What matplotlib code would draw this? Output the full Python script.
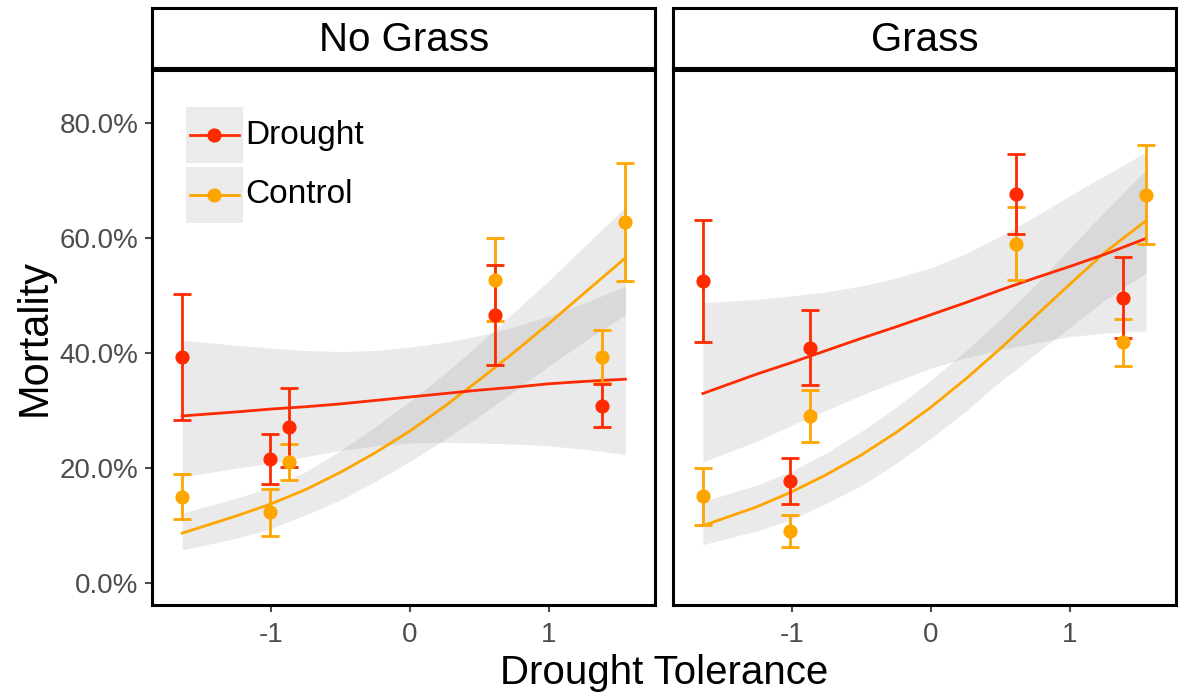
import numpy as np
import matplotlib
matplotlib.use("Agg")
import matplotlib.pyplot as plt
from matplotlib.patches import Rectangle
from matplotlib.lines import Line2D

plt.rcParams['font.family'] = ['Liberation Sans', 'DejaVu Sans']

RED = "#FF2A00"
ORANGE = "#FFA500"
BAND = "#999999"

panels = ["No Grass", "Grass"]

# species drought tolerance (x positions of the summary points)
tol = [-1.64, -1.01, -0.87, 0.61, 1.38, 1.55]

# observed mortality (%) with error bar limits; None = not shown
drought_mean = {"No Grass": [39.3, 21.5, 27.0, 46.6, 30.8, None],
                "Grass":    [52.5, 17.6, 40.9, 67.6, 49.6, None]}
drought_hi = {"No Grass": [50.3, 25.8, 33.8, 55.2, 34.5, None],
              "Grass":    [63.1, 21.6, 47.5, 74.5, 56.6, None]}
drought_lo = {"No Grass": [28.3, 17.2, 20.2, 37.9, 27.0, None],
              "Grass":    [41.9, 13.7, 34.3, 60.7, 42.6, None]}

control_mean = {"No Grass": [14.9, 12.2, 21.0, 52.7, 39.3, 62.7],
                "Grass":    [15.1, 9.0, 29.0, 59.0, 41.8, 67.5]}
control_hi = {"No Grass": [18.9, 16.3, 24.1, 59.9, 44.0, 73.0],
              "Grass":    [20.0, 11.8, 33.6, 65.3, 45.8, 76.2]}
control_lo = {"No Grass": [11.0, 8.1, 17.8, 45.5, 34.8, 52.4],
              "Grass":    [10.1, 6.2, 24.4, 52.6, 37.7, 58.9]}

# fitted curves (%) read at these tolerance values
fit_x = [-1.64, -1.25, -1.0, -0.75, -0.5, -0.25, 0.0, 0.25, 0.5, 0.75, 1.0, 1.25, 1.55]

drought_fit = {
    "No Grass": [29.0, 29.7, 30.2, 30.6, 31.1, 31.7, 32.3, 32.9, 33.5, 34.0, 34.6, 35.0, 35.4],
    "Grass":    [32.9, 36.3, 38.3, 40.4, 42.5, 44.5, 46.6, 48.7, 50.9, 53.0, 55.0, 57.1, 59.9]}
drought_fit_hi = {
    "No Grass": [42.2, 41.3, 40.8, 40.4, 40.2, 40.4, 41.0, 41.8, 43.0, 44.5, 46.4, 48.6, 51.6],
    "Grass":    [48.7, 49.3, 49.9, 50.6, 51.6, 53.0, 54.8, 57.2, 60.3, 63.7, 67.3, 70.8, 74.9]}
drought_fit_lo = {
    "No Grass": [18.4, 19.9, 20.8, 21.9, 23.0, 23.8, 24.3, 24.4, 24.3, 24.1, 23.8, 23.2, 22.3],
    "Grass":    [21.0, 24.6, 27.4, 30.0, 32.6, 35.0, 37.3, 39.1, 40.5, 41.7, 42.8, 43.4, 43.8]}

control_fit = {
    "No Grass": [8.6, 11.6, 13.7, 16.2, 19.2, 22.6, 26.4, 30.7, 35.3, 40.1, 45.1, 50.3, 56.5],
    "Grass":    [9.9, 13.2, 15.8, 18.8, 22.2, 26.1, 30.5, 35.4, 40.7, 46.3, 51.9, 57.4, 63.0]}
control_fit_hi = {
    "No Grass": [12.1, 14.7, 16.6, 19.3, 23.0, 27.1, 31.6, 36.4, 41.6, 47.1, 52.6, 58.4, 65.4],
    "Grass":    [14.1, 17.0, 19.4, 22.6, 26.3, 30.5, 35.2, 40.3, 45.8, 51.7, 58.2, 64.5, 71.9]}
control_fit_lo = {
    "No Grass": [5.7, 7.7, 9.4, 11.8, 14.4, 17.6, 21.1, 24.9, 29.0, 33.3, 37.7, 41.9, 46.6],
    "Grass":    [6.6, 9.0, 11.0, 13.8, 16.9, 20.7, 25.1, 29.8, 35.0, 39.7, 44.4, 49.1, 53.9]}

y_ticks = [0, 20, 40, 60, 80]
x_ticks = [-1, 0, 1]


def draw_points(ax, mean, hi, lo, color):
    xs, ys, up, dn = [], [], [], []
    for x, m, h, l in zip(tol, mean, hi, lo):
        if m is None:
            continue
        xs.append(x)
        ys.append(m)
        up.append(h - m)
        dn.append(m - l)
    ax.errorbar(xs, ys, yerr=[dn, up], fmt="o", color=color, ms=9.2,
                elinewidth=2.0, capsize=6.3, capthick=2.0, zorder=5)


fig = plt.figure(figsize=(11.78, 7), dpi=100)

lefts = [152.3 / 1178, 673 / 1178]
width = 503 / 1178
bottom = 95 / 700
height = 535 / 700

for i, name in enumerate(panels):
    ax = fig.add_axes([lefts[i], bottom, width, height])
    strip = fig.add_axes([lefts[i], 632 / 700, width, 60 / 700])

    # confidence bands
    ax.fill_between(fit_x, drought_fit_lo[name], drought_fit_hi[name],
                    color=BAND, alpha=0.2, lw=0)
    ax.fill_between(fit_x, control_fit_lo[name], control_fit_hi[name],
                    color=BAND, alpha=0.2, lw=0)

    # fitted lines
    ax.plot(fit_x, control_fit[name], color=ORANGE, lw=2.0, zorder=3)
    ax.plot(fit_x, drought_fit[name], color=RED, lw=2.0, zorder=3)

    # observed means
    draw_points(ax, control_mean[name], control_hi[name], control_lo[name], ORANGE)
    draw_points(ax, drought_mean[name], drought_hi[name], drought_lo[name], RED)

    ax.set_xlim(-1.855, 1.765)
    ax.set_ylim(-3.9, 89.2)
    ax.set_xticks(x_ticks)
    ax.set_xticklabels([str(t) for t in x_ticks])
    ax.set_yticks(y_ticks)
    ax.tick_params(labelsize=20, colors="#4D4D4D", width=1.5, length=5, pad=5)
    ax.tick_params(axis="x", pad=7)
    if i == 0:
        ax.set_yticklabels([f"{t:.1f}%" for t in y_ticks])
    else:
        ax.set_yticklabels([])
        ax.tick_params(axis="y", length=0)
    for s in ax.spines.values():
        s.set_linewidth(2.2)
        s.set_color("black")

    strip.set_xticks([])
    strip.set_yticks([])
    for s in strip.spines.values():
        s.set_linewidth(2.2)
        s.set_color("black")
    strip.text(0.5, 0.47, name, ha="center", va="center", fontsize=29,
               transform=strip.transAxes)

    if i == 0:
        # legend with grey key backgrounds
        for k, (lab, col) in enumerate([("Drought", RED), ("Control", ORANGE)]):
            y0 = 0.826 - k * 0.112
            ax.add_patch(Rectangle((0.067, y0), 0.113, 0.105, transform=ax.transAxes,
                                   facecolor="#EBEBEB", edgecolor="none", zorder=1))
            yc = y0 + 0.0525
            ax.add_line(Line2D([0.075, 0.172], [yc, yc], transform=ax.transAxes,
                               color=col, lw=2.0, zorder=2))
            ax.add_line(Line2D([0.1235], [yc], transform=ax.transAxes, marker="o",
                               ms=9.2, color=col, zorder=2))
            ax.text(0.184, yc, lab, transform=ax.transAxes, fontsize=24,
                    va="center", ha="left")

fig.text(664 / 1178, 27 / 700, "Drought Tolerance", ha="center", va="center",
         fontsize=29)
fig.text(35 / 1178, 362 / 700, "Mortality", ha="center", va="center",
         fontsize=30, rotation=90)

fig.savefig("out.png", dpi=100)
